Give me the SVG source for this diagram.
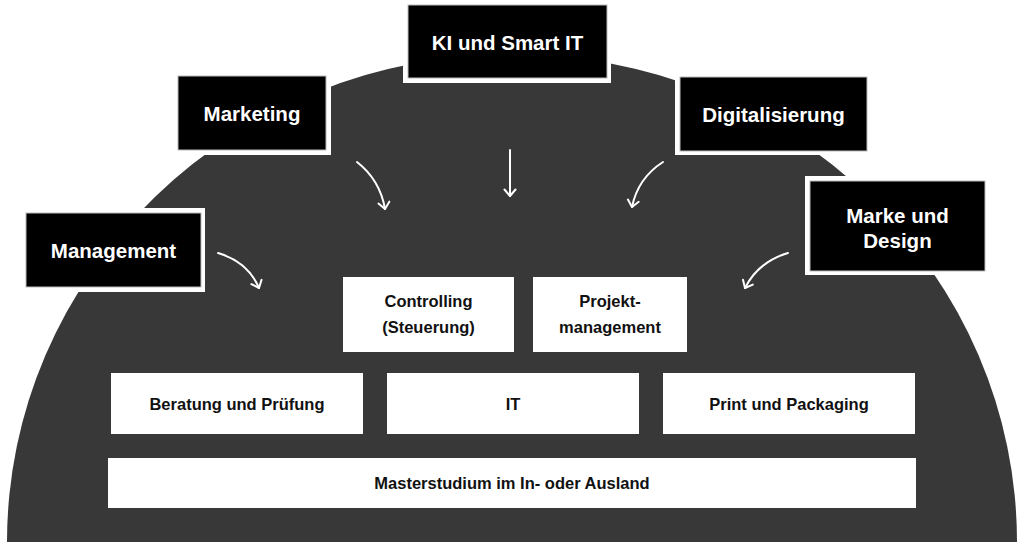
<svg xmlns="http://www.w3.org/2000/svg" width="1024" height="545" viewBox="0 0 1024 545">
<defs>
<style>
.lbl{font-family:"Liberation Sans",Arial,sans-serif;font-weight:bold;font-size:20.5px;fill:#fff;text-anchor:middle}
.in{font-family:"Liberation Sans",Arial,sans-serif;font-weight:bold;font-size:16.5px;fill:#111;text-anchor:middle}
.halo{fill:#fff}
.blk{fill:#000;stroke:#bbb;stroke-width:1}
.wbox{fill:#fff}
.arr{fill:none;stroke:#fff;stroke-width:2;stroke-linecap:round;marker-end:url(#head)}
</style>
<marker id="head" markerUnits="userSpaceOnUse" markerWidth="14" markerHeight="14" refX="8" refY="7" orient="auto">
<path d="M1.5,1.5 L8,7 L1.5,12.5" fill="none" stroke="#fff" stroke-width="2" stroke-linecap="round" stroke-linejoin="round"/>
</marker>
</defs>
<rect width="1024" height="545" fill="#fff"/>
<path id="dome" d="M7,542 A505,488 0 0 1 1017,542 Z" fill="#383838"/>

<g id="controlling"><rect class="wbox" x="343" y="277" width="171" height="75"/><text class="in" x="428.5" y="307">Controlling</text><text class="in" x="428.5" y="333">(Steuerung)</text></g>
<g id="projekt"><rect class="wbox" x="533" y="277" width="154" height="75"/><text class="in" x="610" y="307">Projekt-</text><text class="in" x="610" y="333">management</text></g>
<g id="beratung"><rect class="wbox" x="111" y="373" width="252" height="61"/><text class="in" x="237" y="410">Beratung und Prüfung</text></g>
<g id="it"><rect class="wbox" x="387" y="373" width="252" height="61"/><text class="in" x="513" y="410">IT</text></g>
<g id="print"><rect class="wbox" x="663" y="373" width="252" height="61"/><text class="in" x="789" y="410">Print und Packaging</text></g>
<g id="master"><rect class="wbox" x="108" y="458" width="808" height="50"/><text class="in" x="512" y="489">Masterstudium im In- oder Ausland</text></g>

<g id="ki"><rect class="halo" x="403" y="0" width="208" height="83"/><rect class="blk" x="408" y="5" width="199" height="73"/><text class="lbl" x="507.5" y="50">KI und Smart IT</text></g>
<g id="marketing"><rect class="halo" x="173" y="71" width="158" height="84"/><rect class="blk" x="178" y="76" width="148" height="74"/><text class="lbl" x="252" y="120.5">Marketing</text></g>
<g id="digital"><rect class="halo" x="675" y="72" width="197" height="83"/><rect class="blk" x="680" y="77" width="187" height="74"/><text class="lbl" x="773.5" y="121.5">Digitalisierung</text></g>
<g id="management"><rect class="halo" x="21" y="208" width="184" height="84"/><rect class="blk" x="26" y="213" width="175" height="74"/><text class="lbl" x="113.5" y="257.5">Management</text></g>
<g id="marke"><rect class="halo" x="805" y="176" width="185" height="99"/><rect class="blk" x="810" y="181" width="175" height="90"/><text class="lbl" x="897.5" y="222.5">Marke und</text><text class="lbl" x="897.5" y="248">Design</text></g>

<g id="connectors">
<path class="arr" d="M218,253 Q248,262 259,288"/>
<path class="arr" d="M357,162 Q380,180 385,209"/>
<path class="arr" d="M510,150 L510,196"/>
<path class="arr" d="M663,162 Q638,178 632,207"/>
<path class="arr" d="M788,253 Q758,262 745,288"/>
</g>
</svg>
